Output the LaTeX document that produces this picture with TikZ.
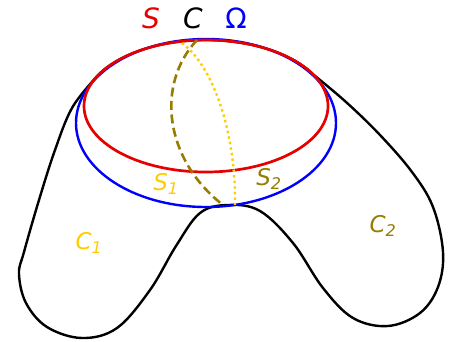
\documentclass[tikz,border=0pt]{standalone}
\usepackage{fontspec}
\setmainfont{DejaVu Sans}
\definecolor{sred}{RGB}{230,0,0}
\definecolor{oblue}{RGB}{0,0,255}
\definecolor{sgold}{RGB}{255,204,0}
\definecolor{solive}{RGB}{150,125,0}
\tikzset{
  toplabel/.style={font=\fontsize{28}{28}\selectfont},
  sublabel/.style={font=\fontsize{23}{23}\selectfont\itshape},
}
\begin{document}
\begin{tikzpicture}[x=1pt,y=-1pt]
\useasboundingbox (0,0) rectangle (449,341);
% outer curve C
\draw[line width=2.4pt] (313,74.3) arc[start angle=-28.7,end angle=-155.5,x radius=122,y radius=66]
  -- plot[smooth,tension=0.6] coordinates {(95,78.6)(72,108)(55,150)(39,200)(24,252)(19,274)(26,303)(47,327)(82,338)(117,328)(150,290)(176,246)(200,213)(228,205)(260,211)(293,243)(323,288)(353,318)(388,326)(420,313)(438,287)(443,252)(433,207)(412,172)(380,135)(346,102)(313,74.3)};
% Omega and S
\draw[oblue,line width=2.4pt] (206,123) ellipse[x radius=130,y radius=84];
\draw[sred,line width=2.7pt] (206,106) ellipse[x radius=122,y radius=66];
% cuts S_1, S_2
\draw[solive,line width=2.6pt,dash pattern=on 9pt off 4.5pt] (197,40) .. controls (155,85) and (165,160) .. (223,205);
\draw[sgold,line width=2.4pt,dash pattern=on 2.4pt off 3.2pt] (182,43) .. controls (212,65) and (236,130) .. (235,205);
% labels
\node[toplabel,sred] (lS) at (151,18) {\itshape S};
\node[toplabel] (lC) at (193,18) {\itshape C};
\node[toplabel,oblue] (lO) at (236,18) {Ω};
\node[sublabel,sgold] (lS1) at (166,184) {S\textsubscript{1}};
\node[sublabel,solive] (lS2) at (269,179) {S\textsubscript{2}};
\node[sublabel,sgold] (lC1) at (89,243) {C\textsubscript{1}};
\node[sublabel,solive] (lC2) at (383,226) {C\textsubscript{2}};
\end{tikzpicture}
\end{document}
